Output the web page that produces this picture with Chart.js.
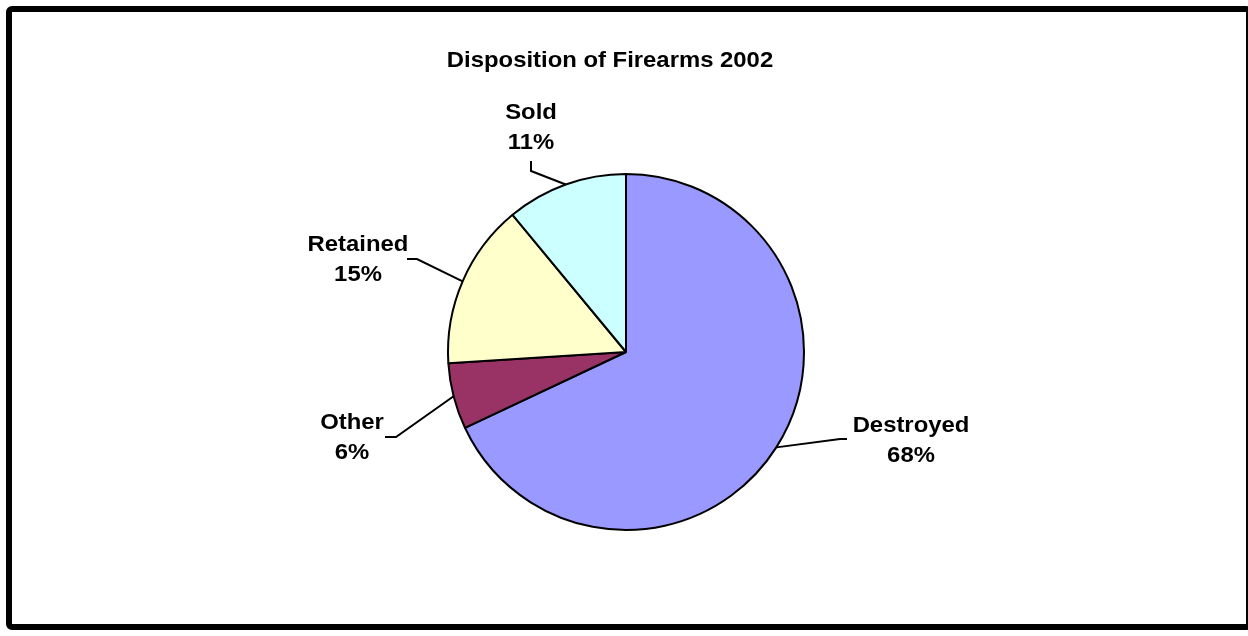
<!DOCTYPE html>
<html>
<head>
<meta charset="utf-8">
<script src="https://cdn.jsdelivr.net/npm/chart.js@4"></script>
<style>
  html, body { margin: 0; padding: 0; background: #fff; }
  canvas { display: block; }
</style>
</head>
<body>
<canvas id="myChart" width="1248" height="636"></canvas>
<script>
// donnees
const titre = "Disposition of Firearms 2002";
const categories = ["Destroyed", "Other", "Retained", "Sold"];
const valeurs = [68, 6, 15, 11];
const couleurs = ["#9999FF", "#993366", "#FFFFCC", "#CCFFFF"];

// position des etiquettes (centre x, ligne de base 1ere ligne) et coude du trait
const etiquettes = [
  { x: 911, y: 432, coude: [[847, 439], [840, 439]] },
  { x: 352, y: 429, coude: [[385, 437], [396, 437]] },
  { x: 358, y: 251, coude: [[407, 259], [417, 259]] },
  { x: 531, y: 119, coude: [[531, 161], [531, 171]] }
];

const police = 'bold 22px "Liberation Sans", Arial, sans-serif';
const etirement = 1.085;

function texte(ctx, str, x, y) {
  ctx.save();
  ctx.translate(x, y);
  ctx.scale(etirement, 1);
  ctx.fillText(str, 0, 0);
  ctx.restore();
}

const cadre = {
  id: "cadre",
  beforeDraw(chart) {
    const ctx = chart.ctx;
    ctx.save();
    ctx.fillStyle = "#fff";
    ctx.fillRect(0, 0, chart.width, chart.height);
    ctx.restore();
  },
  afterDraw(chart) {
    const ctx = chart.ctx;
    const total = valeurs.reduce((a, b) => a + b, 0);
    const arcs = chart.getDatasetMeta(0).data;

    ctx.save();
    // cadre noir
    ctx.strokeStyle = "#000";
    ctx.lineWidth = 6;
    ctx.beginPath();
    ctx.roundRect(9, 9, 1240, 618, 3);
    ctx.stroke();

    // titre
    ctx.fillStyle = "#000";
    ctx.font = police;
    ctx.textAlign = "center";
    ctx.textBaseline = "alphabetic";
    texte(ctx, titre, 610, 67);

    // etiquettes + traits de rappel
    arcs.forEach((arc, i) => {
      const e = etiquettes[i];
      const milieu = (arc.startAngle + arc.endAngle) / 2;
      const px = arc.x + Math.cos(milieu) * arc.outerRadius;
      const py = arc.y + Math.sin(milieu) * arc.outerRadius;

      ctx.strokeStyle = "#000";
      ctx.lineWidth = 2;
      ctx.beginPath();
      ctx.moveTo(e.coude[0][0], e.coude[0][1]);
      ctx.lineTo(e.coude[1][0], e.coude[1][1]);
      ctx.lineTo(px, py);
      ctx.stroke();

      const pct = Math.round(valeurs[i] / total * 100) + "%";
      texte(ctx, categories[i], e.x, e.y);
      texte(ctx, pct, e.x, e.y + 30);
    });
    ctx.restore();
  }
};

const ctx = document.getElementById("myChart");

const myChart = new Chart(ctx, {
  type: "pie",
  data: {
    labels: categories,
    datasets: [{
      data: valeurs,
      backgroundColor: couleurs,
      borderColor: "#000",
      borderWidth: 2
    }]
  },
  options: {
    responsive: false,
    animation: false,
    devicePixelRatio: 1,
    layout: {
      padding: { top: 173, bottom: 105, left: 4, right: 0 }
    },
    plugins: {
      legend: { display: false },
      tooltip: { enabled: false },
      title: { display: false }
    }
  },
  plugins: [cadre]
});
</script>
</body>
</html>
